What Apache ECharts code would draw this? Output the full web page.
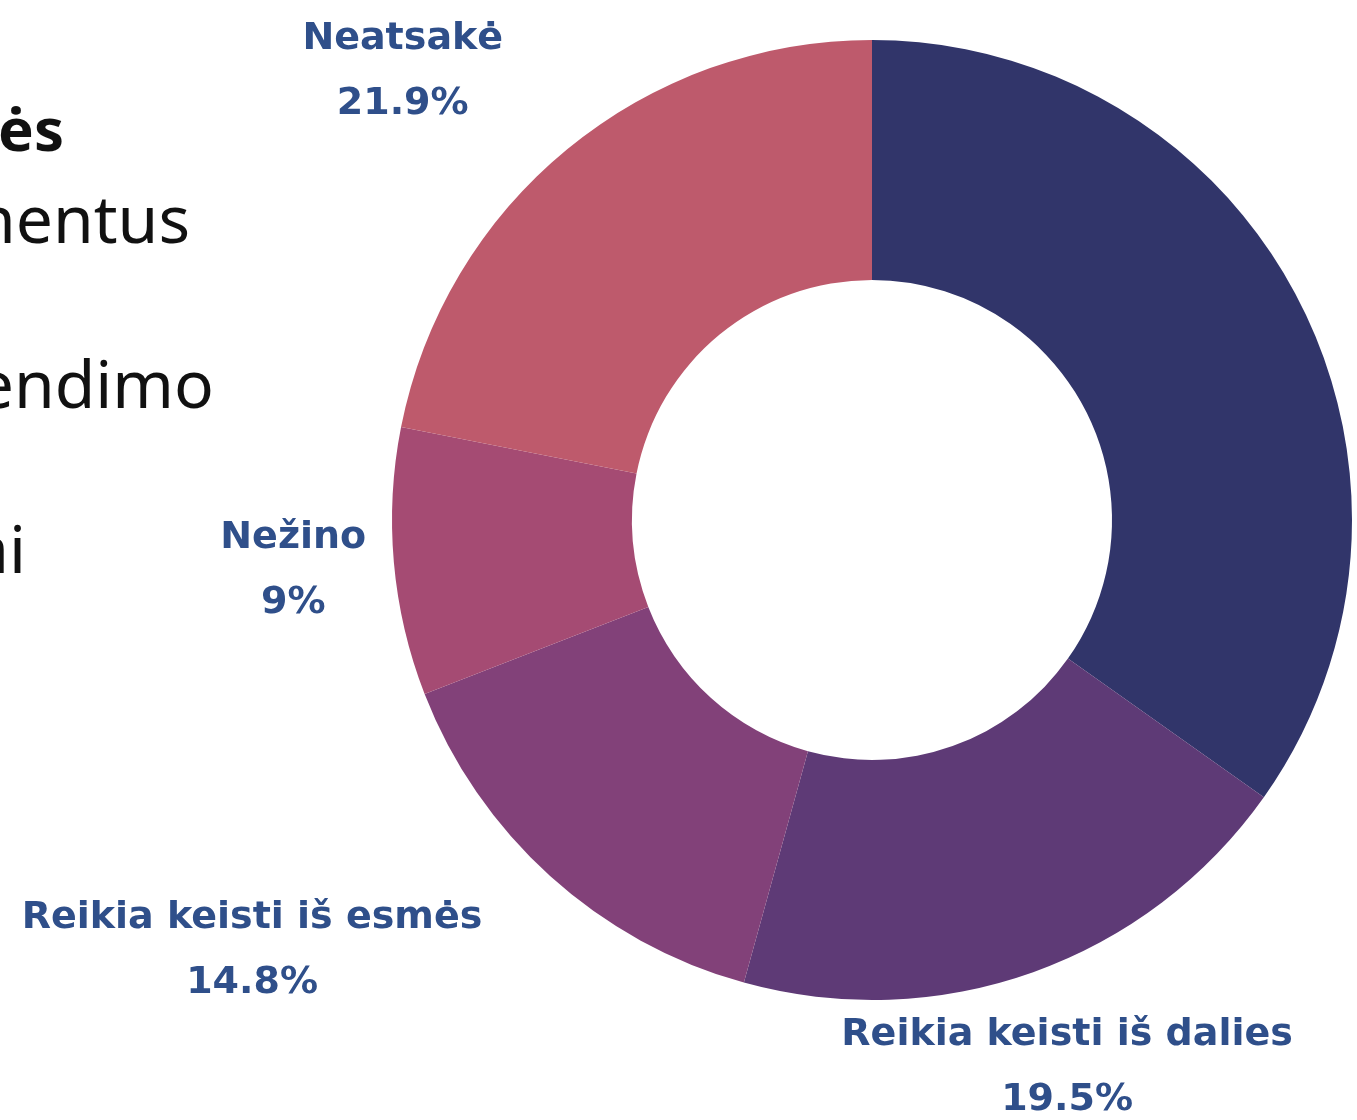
<!DOCTYPE html>
<html>
<head>
<meta charset="utf-8">
<script src="https://cdn.jsdelivr.net/npm/echarts@6/dist/echarts.min.js"></script>
<style>
html, body { margin: 0; padding: 0; background: #fff; }
#chart { width: 1357px; height: 1120px; }
</style>
</head>
<body>
<div id="chart"></div>
<script>
var myChart = echarts.init(document.getElementById('chart'));

// slices, clockwise from 12 o'clock (first one has its label off the picture)
var names = ['', 'Reikia keisti iš dalies', 'Reikia keisti iš esmės', 'Nežino', 'Neatsakė'];
var values = [34.8, 19.5, 14.8, 9, 21.9];
var colors = ['#31356a', '#5e3a76', '#824179', '#a54b73', '#be5a6c'];
var centred = [false, true, false, true, false];

// cut-off text at the left edge of the picture
var sideTexts = ['ės', 'nentus', 'endimo', 'ai'];

var data = [];
for (var i = 0; i < names.length; i++) {
    data.push({
        name: names[i],
        value: values[i],
        itemStyle: { color: colors[i] },
        label: { show: names[i] !== '' }
    });
}

function sideText(txt, x, y, size, weight) {
    return {
        type: 'text', x: x, y: y,
        style: { text: txt, align: 'right', verticalAlign: 'top', fontFamily: 'Noto Sans', fontWeight: weight, fontSize: size, fill: '#111' }
    };
}

option = {
    backgroundColor: '#ffffff',
    animation: false,
    graphic: [
        sideText(sideTexts[0], 64, 104, 60, 'bold'),
        sideText(sideTexts[1], 190, 191, 66, 'normal'),
        sideText(sideTexts[2], 214, 356, 66, 'normal'),
        sideText(sideTexts[3], 26, 521, 66, 'normal')
    ],
    series: [{
        type: 'pie',
        center: [872, 520],
        radius: [240, 480],
        startAngle: 90,
        clockwise: true,
        avoidLabelOverlap: false,
        data: data,
        label: {
            position: 'outside',
            distanceToLabelLine: 0,
            formatter: function (p) {
                return '{c|' + p.name + '}\n{c|' + p.value + '%}';
            },
            rich: {
                c: {
                    align: 'center',
                    fontFamily: 'DejaVu Sans',
                    fontWeight: 'bold',
                    fontSize: 38,
                    lineHeight: 65,
                    color: '#2f4f8a'
                }
            }
        },
        labelLine: { show: false, length: 101, length2: 0 },
        labelLayout: function (params) {
            if (centred[params.dataIndex]) {
                return { align: 'center' };
            }
            return {};
        },
        emphasis: { disabled: true }
    }]
};
myChart.setOption(option);
</script>
</body>
</html>
